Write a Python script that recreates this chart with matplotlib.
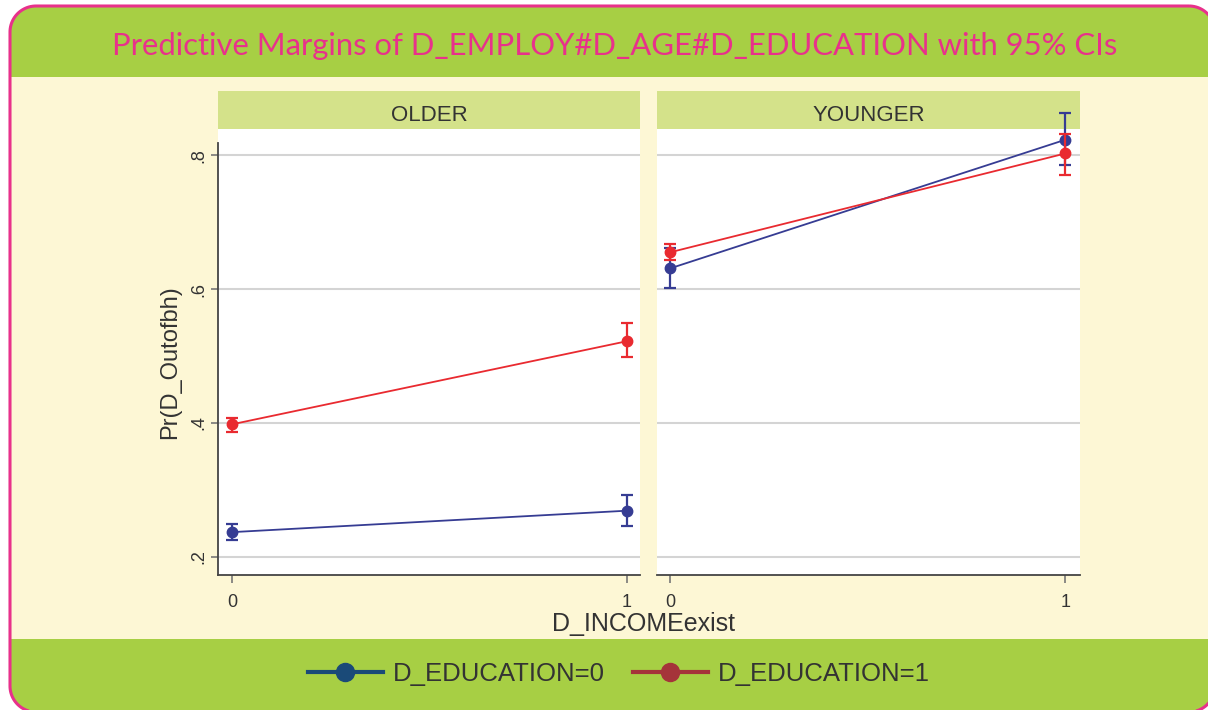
import matplotlib
matplotlib.use("Agg")
import numpy as np
import matplotlib.pyplot as plt
from matplotlib.patches import PathPatch, Rectangle
from matplotlib.path import Path
from matplotlib.lines import Line2D

# ---------------- data ----------------
panels = ["OLDER", "YOUNGER"]
x_vals = [0, 1]
x_ticklabels = ["0", "1"]
y_ticks = [0.2, 0.4, 0.6, 0.8]
y_ticklabels = [".2", ".4", ".6", ".8"]
series_names = ["D_EDUCATION=0", "D_EDUCATION=1"]

older_edu0 = [0.237, 0.269]
older_edu0_lo = [0.225, 0.246]
older_edu0_hi = [0.249, 0.292]
older_edu1 = [0.398, 0.522]
older_edu1_lo = [0.387, 0.499]
older_edu1_hi = [0.407, 0.549]

younger_edu0 = [0.631, 0.823]
younger_edu0_lo = [0.601, 0.785]
younger_edu0_hi = [0.661, 0.863]
younger_edu1 = [0.655, 0.8025]
younger_edu1_lo = [0.643, 0.771]
younger_edu1_hi = [0.667, 0.832]

title = "Predictive Margins of D_EMPLOY#D_AGE#D_EDUCATION with 95% CIs"
xlabel = "D_INCOMEexist"
ylabel = "Pr(D_Outofbh)"

# ---------------- style ----------------
W, H = 1208, 710
PINK = "#e8318b"
GREEN = "#a7cf44"
CREAM = "#fdf7d5"
STRIP = "#d4e28a"
BLUE = "#363c93"
RED = "#e92a30"
LEG_BLUE = "#1a4a78"
LEG_RED = "#a5343a"
TXT = "#333333"
GRID = "#d4d4d4"
FONT = ["Liberation Sans", "DejaVu Sans"]

fig = plt.figure(figsize=(W / 100, H / 100), dpi=100, facecolor="white")

def px_axes(x0, y0, x1, y1, **kw):
    return fig.add_axes([x0 / W, 1 - y1 / H, (x1 - x0) / W, (y1 - y0) / H], **kw)

def rounded_rect_path(x0, y0, x1, y1, r, n=24):
    pts = []
    corners = [(x1 - r, y0 + r, -90, 0), (x1 - r, y1 - r, 0, 90),
               (x0 + r, y1 - r, 90, 180), (x0 + r, y0 + r, 180, 270)]
    for cx, cy, a0, a1 in corners:
        a = np.radians(np.linspace(a0, a1, n))
        pts.extend(zip(cx + r * np.cos(a), cy + r * np.sin(a)))
    pts.append(pts[0])
    return Path(pts, closed=True)

# background in pixel coordinates (y down)
bg = px_axes(0, 0, W, H, zorder=0)
bg.set_xlim(0, W)
bg.set_ylim(H, 0)
bg.axis("off")

frame_path = rounded_rect_path(10, 6, 1215, 712, 26)
frame = PathPatch(frame_path, facecolor=CREAM, edgecolor="none", zorder=1)
bg.add_patch(frame)
for (y0, y1) in [(0, 77), (639, 720)]:
    r = Rectangle((0, y0), W + 20, y1 - y0, facecolor=GREEN, edgecolor="none", zorder=2)
    r.set_clip_path(frame)
    bg.add_patch(r)
border = PathPatch(frame_path, facecolor="none", edgecolor=PINK, linewidth=2.2, zorder=3)
bg.add_patch(border)

# title, fitted to the reference width
t = bg.text(615, 46, title, color=PINK, ha="center", va="center",
            fontsize=26, family=["Lato", "DejaVu Sans"], zorder=4)
fig.canvas.draw()
bb = t.get_window_extent(fig.canvas.get_renderer())
t.set_fontsize(26 * 1004 / bb.width)

# panels
panel_data = {
    "OLDER": [(older_edu0, older_edu0_lo, older_edu0_hi), (older_edu1, older_edu1_lo, older_edu1_hi)],
    "YOUNGER": [(younger_edu0, younger_edu0_lo, younger_edu0_hi), (younger_edu1, younger_edu1_lo, younger_edu1_hi)],
}
panel_px = {"OLDER": (218, 640, (-0.0355, 1.034)), "YOUNGER": (657, 1080, (-0.034, 1.037))}
colors = [BLUE, RED]
ylim = (0.173, 0.839)

for i, name in enumerate(panels):
    x0, x1, xl = panel_px[name]
    # strip
    bg.add_patch(Rectangle((x0, 91), x1 - x0, 38, facecolor=STRIP, edgecolor="none", zorder=4))
    bg.text((x0 + x1) / 2, 113, name, ha="center", va="center_baseline", fontsize=16,
            color=TXT, family=FONT, zorder=5)
    ax = px_axes(x0, 129, x1, 575, zorder=5)
    ax.set_facecolor("white")
    ax.set_xlim(*xl)
    ax.set_ylim(*ylim)
    for yv in y_ticks:
        ax.axhline(yv, color=GRID, lw=1.5, zorder=1)
    for s, (vals, lo, hi) in enumerate(panel_data[name]):
        yerr = [[v - l for v, l in zip(vals, lo)], [h - v for v, h in zip(vals, hi)]]
        ax.errorbar(x_vals, vals, yerr=yerr, color=colors[s], lw=1.3, marker="o",
                    ms=7.5, capsize=4, elinewidth=1.6, capthick=1.6, zorder=3 + s,
                    clip_on=False)
    for sp in ["top", "right"]:
        ax.spines[sp].set_visible(False)
    ax.spines["bottom"].set_color("#444444")
    ax.spines["bottom"].set_linewidth(1.3)
    ax.set_xticks(x_vals)
    ax.set_xticklabels(x_ticklabels, fontsize=13, color=TXT, family=FONT)
    ax.tick_params(axis="x", length=6, width=1.2, color="#777777", pad=8)
    if i == 0:
        ax.spines["left"].set_color("#444444")
        ax.spines["left"].set_linewidth(1.3)
        ax.spines["left"].set_bounds(ylim[0], 0.818)
        ax.set_yticks(y_ticks)
        ax.set_yticklabels(y_ticklabels, fontsize=13, color=TXT, family=FONT,
                           rotation=90, va="center")
        ax.tick_params(axis="y", length=5, width=1.2, color="#777777", pad=3)
    else:
        ax.spines["left"].set_visible(False)
        ax.set_yticks([])

# axis titles
bg.text(644, 624, xlabel, ha="center", va="center", fontsize=18, color=TXT,
        family=FONT, zorder=5)
bg.text(170, 362, ylabel, ha="center", va="center", fontsize=17, color=TXT,
        family=FONT, rotation=90, zorder=5)

# legend
handles = [Line2D([], [], color=c, lw=3, marker="o", ms=13) for c in [LEG_BLUE, LEG_RED]]
fig.legend(handles, series_names, loc="center", bbox_to_anchor=(619 / W, 1 - 674 / H),
           ncol=2, frameon=False, prop={"family": FONT, "size": 18.5},
           handlelength=2.9, handletextpad=0.4, columnspacing=1.1,
           labelcolor=TXT)

fig.savefig("out.png", dpi=100, facecolor="white")
